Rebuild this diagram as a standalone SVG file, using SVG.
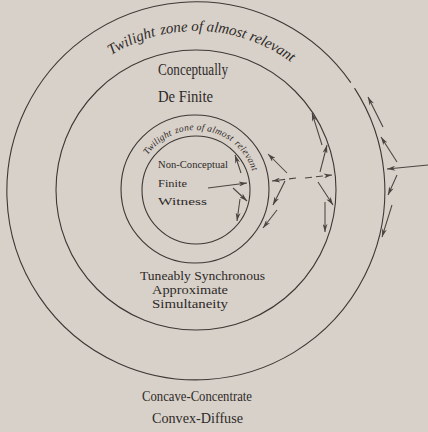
<svg xmlns="http://www.w3.org/2000/svg" width="428" height="432" viewBox="0 0 428 432">
<defs>
<style>
.ring{fill:none;stroke:#3d3835;stroke-width:1.1}
.ar{fill:none;stroke:#4a4440;stroke-width:1.05;marker-end:url(#ah)}
.dash{stroke-dasharray:7 4}
.lbl{font-family:"Liberation Serif","DejaVu Serif",serif;fill:#2e2a28}
.cur{font-family:"Liberation Serif","DejaVu Serif",serif;font-style:italic;fill:#2e2a28}
</style>
<marker id="ah" viewBox="0 0 10 6" refX="10" refY="3" markerWidth="9" markerHeight="5" markerUnits="userSpaceOnUse" orient="auto">
<path d="M0,0 L10,3 L0,6 L3,3 Z" fill="#4a4440"/>
</marker>
<path id="tw1" d="M 111.2 55.3 A 160 160 0 0 1 292.3 63.2"/>
<path id="tw2" d="M 147.7 155.2 A 59 59 0 0 1 253.0 173.7"/>
</defs>
<rect width="428" height="432" fill="#d8d1ca"/>

<g id="outer-ring">
<path class="ring" d="M 354.5 88.1 A 189 189 0 1 1 350.8 82.6"/>
<text class="cur" font-size="15"><textPath href="#tw1" startOffset="0" textLength="49" lengthAdjust="spacing">Twilight</textPath></text>
<text class="cur" font-size="15"><textPath href="#tw1" startOffset="54" textLength="85" lengthAdjust="spacing">zone of almost</textPath></text>
<text class="cur" font-size="15"><textPath href="#tw1" startOffset="143" textLength="48" lengthAdjust="spacing">relevant</textPath></text>
</g>
<g id="conceptual-ring">
<circle class="ring" cx="196" cy="190" r="140"/>
<text class="lbl" x="158" y="75" font-size="16" textLength="70" lengthAdjust="spacingAndGlyphs">Conceptually</text>
<text class="lbl" x="158" y="102" font-size="16" textLength="55" lengthAdjust="spacingAndGlyphs">De Finite</text>
</g>
<g id="inner-twilight-ring">
<circle class="ring" cx="195" cy="189" r="74"/>
<text class="cur" font-size="9.5"><textPath href="#tw2" startOffset="0" textLength="32" lengthAdjust="spacing">Twilight</textPath></text>
<text class="cur" font-size="9.5"><textPath href="#tw2" startOffset="36" textLength="58" lengthAdjust="spacing">zone of almost</textPath></text>
<text class="cur" font-size="9.5"><textPath href="#tw2" startOffset="98" textLength="33" lengthAdjust="spacing">relevant</textPath></text>
</g>
<g id="witness-ring">
<circle class="ring" cx="196" cy="190" r="54"/>
<text class="lbl" x="158" y="168" font-size="11" textLength="70" lengthAdjust="spacingAndGlyphs">Non-Conceptual</text>
<text class="lbl" x="158" y="187" font-size="11" textLength="29" lengthAdjust="spacingAndGlyphs">Finite</text>
<text class="lbl" x="158" y="205" font-size="11" textLength="49" lengthAdjust="spacingAndGlyphs">Witness</text>
</g>
<g id="synchronous-label">
<text class="lbl" x="140" y="280" font-size="12" textLength="125" lengthAdjust="spacingAndGlyphs">Tuneably Synchronous</text>
<text class="lbl" x="152" y="294" font-size="12" textLength="76" lengthAdjust="spacingAndGlyphs">Approximate</text>
<text class="lbl" x="152" y="308" font-size="12" textLength="76" lengthAdjust="spacingAndGlyphs">Simultaneity</text>
</g>
<g id="caption">
<text class="lbl" x="142" y="401" font-size="15" textLength="110" lengthAdjust="spacingAndGlyphs">Concave-Concentrate</text>
<text class="lbl" x="152" y="423" font-size="15" textLength="91" lengthAdjust="spacingAndGlyphs">Convex-Diffuse</text>
</g>

<g id="connectors">
<path class="ar" d="M 383 127 L 368 97"/>
<path class="ar" d="M 397 162 L 381 137"/>
<path class="ar" d="M 428 165 L 387 169"/>
<path class="ar" d="M 397 175 L 388 195"/>
<path class="ar" d="M 392 205 L 382 237"/>
<path class="ar" d="M 322 145 L 312 113"/>
<path class="ar" d="M 320 172 L 327 145"/>
<path class="ar dash" d="M 305 178 L 332 175"/>
<path class="ar" d="M 318 182 L 333 205"/>
<path class="ar" d="M 325 202 L 325 232"/>
<path class="ar" d="M 287 173 L 268 154"/>
<path class="ar dash" d="M 296 178 L 272 181"/>
<path class="ar" d="M 285 181 L 273 205"/>
<path class="ar" d="M 277 210 L 263 228"/>
<path class="ar" d="M 241 173 L 235 155"/>
<path class="ar" d="M 208 188 L 247 183"/>
<path class="ar" d="M 233 188 L 247 201"/>
<path class="ar" d="M 240 199 L 237 221"/>
</g>
</svg>
